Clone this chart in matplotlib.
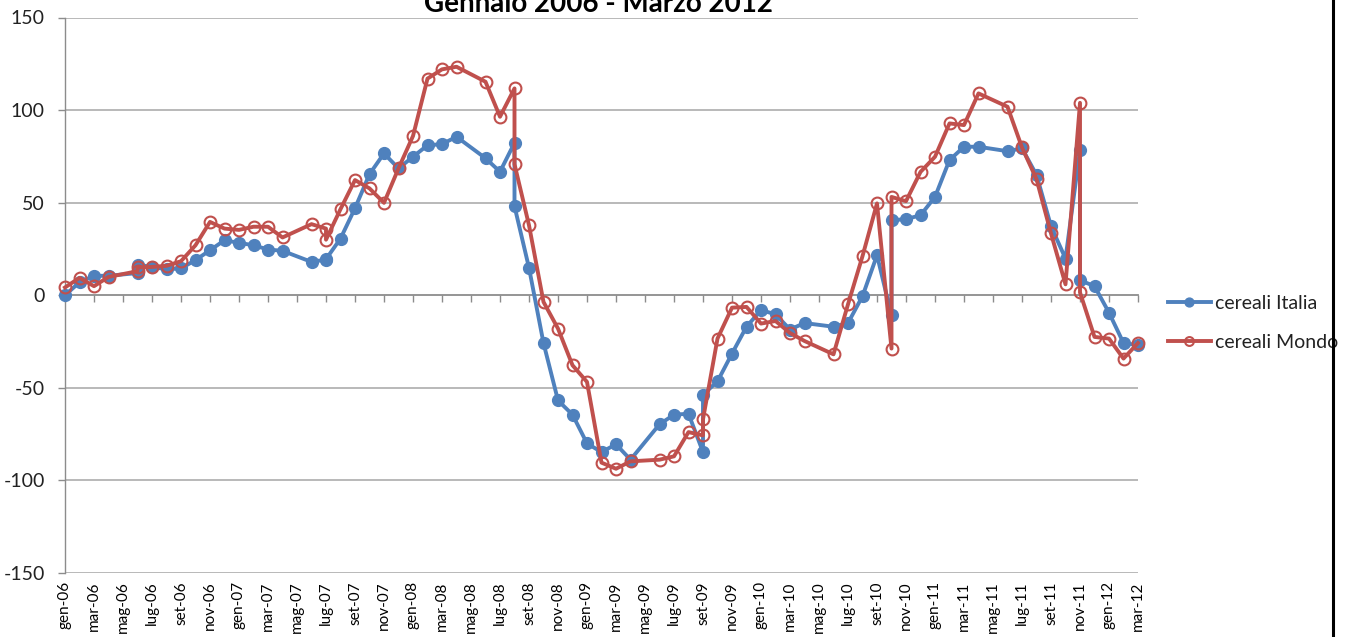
import matplotlib
matplotlib.use("Agg")
import matplotlib.pyplot as plt
from matplotlib.lines import Line2D

# ---- data (month index: 0 = gen-06) ----
month_idx = [0, 1, 2, 3, 5, 5, 6, 7, 8, 9, 10, 11, 12, 13, 14, 15, 17, 18, 18, 19,
             20, 21, 22, 23, 24, 25, 26, 27, 29, 30, 31, 31, 32, 33, 34, 35, 36, 37, 38, 39,
             41, 42, 43, 44, 44, 45, 46, 47, 48, 49, 50, 51, 53, 54, 55, 56, 57, 57, 58, 59,
             60, 61, 62, 63, 65, 66, 67, 68, 69, 70, 70, 71, 72, 73, 74]

cereali_italia = [0, 7, 10.5, 10.5, 12, 16.5, 15.3, 14, 14.5, 19, 24.3, 29.7, 28.3, 27, 24.7, 24,
                  18, 19.3, 19.5, 30.6,
                  47, 65.4, 76.6, 68.5, 74.8, 81, 81.6, 85.6, 74, 66.7, 82.3, 48.1, 14.8, -25.8,
                  -56.8, -64.5, -80, -84.7, -80.5, -88.8,
                  -69.7, -64.5, -64, -84.7, -53.7, -46.5, -31.5, -17, -8, -10.3, -18.5, -15,
                  -17, -15, -0.5, 21.6, -10.8, 40.5, 41.1, 43.2,
                  53.1, 73, 80.2, 80.2, 77.8, 79.3, 65, 37.3, 19.8, 78.4, 8.1, 4.9, -9.4, -25.8, -27]

cereali_mondo = [4.2, 9.4, 4.9, 9.9, 13, 15, 15.3, 15.9, 18.4, 27, 39.6, 36, 35.3, 37, 37, 31.2,
                 38.4, 36, 30, 46.5,
                 62.2, 57.7, 49.9, 68.5, 86, 117, 122, 123.4, 115.3, 96.4, 111.7, 70.8, 37.8, -3.6,
                 -18, -37.8, -46.8, -90.4, -93.7, -89.7,
                 -88.8, -87, -73.9, -75.7, -67, -23.4, -6.7, -6.3, -15.3, -13.9, -20.4, -24.7,
                 -31.9, -4.9, 21.1, 49.6, -28.8, 53.1, 50.8, 66.6,
                 74.8, 92.8, 91.9, 109, 101.8, 79.8, 62.7, 33.4, 5.9, 103.9, 1.5, -22.5, -23.4, -34.2, -25.8]

tick_labels = ["gen-06", "mar-06", "mag-06", "lug-06", "set-06", "nov-06",
               "gen-07", "mar-07", "mag-07", "lug-07", "set-07", "nov-07",
               "gen-08", "mar-08", "mag-08", "lug-08", "set-08", "nov-08",
               "gen-09", "mar-09", "mag-09", "lug-09", "set-09", "nov-09",
               "gen-10", "mar-10", "mag-10", "lug-10", "set-10", "nov-10",
               "gen-11", "mar-11", "mag-11", "lug-11", "set-11", "nov-11",
               "gen-12", "mar-12"]
y_ticks = [-150, -100, -50, 0, 50, 100, 150]
title = "Gennaio 2006 - Marzo 2012"

plt.rcParams['font.family'] = ['Lato', 'DejaVu Sans']

W, H = 1347, 637
fig = plt.figure(figsize=(W / 100, H / 100), dpi=100)
fig.patch.set_facecolor('white')

left, right = 65 / W, 1138 / W
bottom, top = (H - 573) / H, (H - 17.5) / H
ax = fig.add_axes([left, bottom, right - left, top - bottom])

grid_c = '#B3B3B3'
axis_c = '#8C8C8C'

ax.set_xlim(0, 74)
ax.set_ylim(-150, 150)

for y in y_ticks:
    if y != 0:
        ax.axhline(y, color=grid_c, lw=1.3, zorder=1)

blue = '#4F81BD'
red = '#C0504D'
ax.plot(month_idx, cereali_italia, color=blue, lw=2.8, marker='o', ms=8.5,
        mfc=blue, mec=blue, label='cereali Italia', zorder=3, clip_on=False)
ax.plot(month_idx, cereali_mondo, color=red, lw=2.8, marker='o', ms=8.5,
        mfc='none', mec=red, mew=1.5, label='cereali Mondo', zorder=4, clip_on=False)

# spines
for s in ['top', 'right']:
    ax.spines[s].set_visible(False)
ax.spines['left'].set_color(axis_c)
ax.spines['left'].set_linewidth(1.0)
ax.spines['bottom'].set_position(('data', 0))
ax.spines['bottom'].set_color(axis_c)
ax.spines['bottom'].set_linewidth(1.3)
ax.spines['bottom'].set_zorder(2)

tick_pos = list(range(0, 75, 2))
ax.set_xticks(tick_pos)
ax.tick_params(axis='x', direction='out', length=5, width=1, color=axis_c,
               labelbottom=False)
ax.set_yticks(y_ticks)
ax.set_yticklabels([str(v) for v in y_ticks])
ax.tick_params(axis='y', direction='out', length=5, width=1, color=axis_c,
               labelsize=14, labelcolor='#222222', pad=9.5)

# category labels along the bottom
sec = ax.secondary_xaxis('bottom')
sec.set_xticks(tick_pos)
sec.set_xticklabels(tick_labels, rotation=90, fontsize=11, color='#000000')
sec.tick_params(length=0, pad=6)
sec.spines['bottom'].set_visible(False)

fig.text(598 / W, 1 - 12.5 / H, title, ha='center', va='baseline',
         fontsize=20, fontweight='bold', color='black')

leg = fig.legend(loc='center left', bbox_to_anchor=(1168 / W, 1 - 323 / H),
                 frameon=False, fontsize=14, handlelength=2.2, handletextpad=0.2,
                 labelspacing=1.12, markerscale=0.75, borderpad=0, borderaxespad=0)
for t in leg.get_texts():
    t.set_color('#222222')

fig.add_artist(Line2D([1333 / W, 1333 / W], [0, 1], transform=fig.transFigure,
                      color='black', lw=2.2, zorder=20))

fig.savefig('out.png', dpi=100)
